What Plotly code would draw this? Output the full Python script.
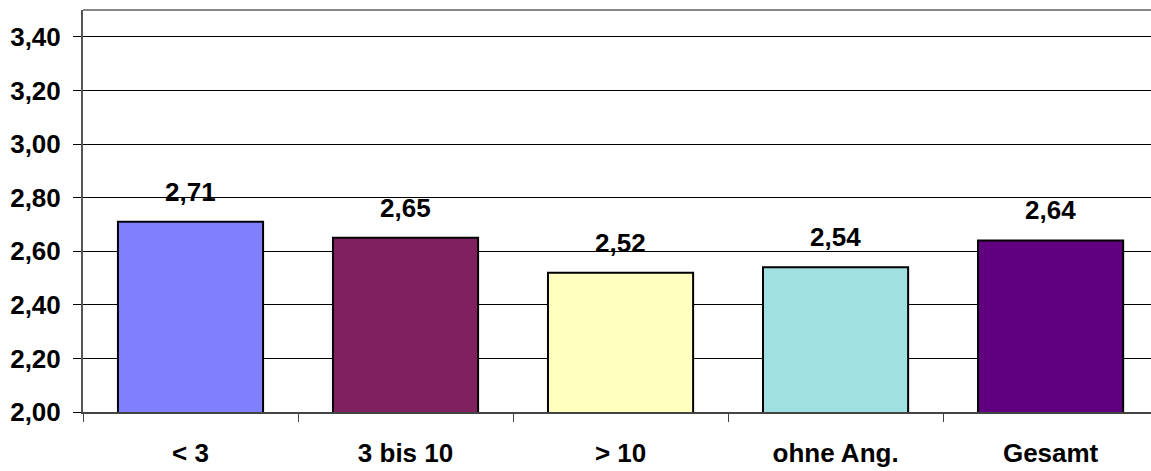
import plotly.graph_objects as go

categories = ["< 3", "3 bis 10", "> 10", "ohne Ang.", "Gesamt"]
values = [2.71, 2.65, 2.52, 2.54, 2.64]
colors = ["#8080FF", "#802060", "#FFFFC0", "#A0E0E0", "#600080"]
y_ticks = [2.0, 2.2, 2.4, 2.6, 2.8, 3.0, 3.2, 3.4]

font_family = "Liberation Sans, Arial, sans-serif"

fig = go.Figure(go.Bar(
    x=categories, y=values,
    marker=dict(color=colors, line=dict(color="#000000", width=2)),
    width=0.675,
))

# value labels above bars
for c, v in zip(categories, values):
    fig.add_annotation(x=c, y=v, text=f"{v:.2f}".replace(".", ","),
                       showarrow=False, yanchor="bottom", yshift=13,
                       font=dict(family=font_family, size=26, color="#000000", weight="bold"))

# top frame line
fig.add_shape(type="line", xref="paper", yref="paper", x0=0, x1=1, y0=1, y1=1,
              line=dict(color="#888888", width=2))

fig.update_layout(
    width=1151, height=471,
    margin=dict(l=83, r=0, t=10, b=59),
    plot_bgcolor="white", paper_bgcolor="white",
    separators=",.",
    showlegend=False,
    font=dict(family=font_family, size=26, color="#000000"),
    xaxis=dict(
        range=[-0.5, 4.467], showgrid=False, automargin=False, zeroline=False,
        showline=True, linecolor="#444444", linewidth=2,
        ticks="outside", ticklen=8, tickcolor="#444444", tickson="boundaries",
        ticklabelstandoff=17,
        tickfont=dict(family=font_family, size=26, weight="bold"),
    ),
    yaxis=dict(
        range=[2.0, 3.5], tickvals=y_ticks, tickformat=".2f", automargin=False,
        showgrid=True, gridcolor="#000000", gridwidth=1,
        showline=True, linecolor="#555555", linewidth=2,
        ticks="outside", ticklen=8, tickcolor="#000000",
        ticklabelstandoff=7, zeroline=False,
        tickfont=dict(family=font_family, size=26, weight="bold"),
    ),
)

# drop the default 8px body margin and any scrollbars so the figure fills the window
fig.write_html("out.html", config={"displayModeBar": False},
               post_script="document.documentElement.style.overflow='hidden';"
                           "document.body.style.margin='0';document.body.style.overflow='hidden';")
